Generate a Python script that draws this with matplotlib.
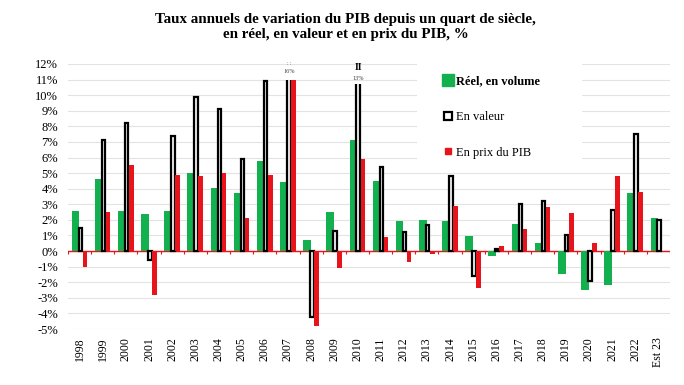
import matplotlib.pyplot as plt
import numpy as np
from matplotlib.lines import Line2D
from matplotlib.patches import Rectangle

plt.rcParams['font.family'] = ['Liberation Serif', 'DejaVu Serif']

annees = ['1998', '1999', '2000', '2001', '2002', '2003', '2004', '2005', '2006',
          '2007', '2008', '2009', '2010', '2011', '2012', '2013', '2014', '2015',
          '2016', '2017', '2018', '2019', '2020', '2021', '2022', 'Est 23']
reel = [2.6, 4.6, 2.6, 2.4, 2.6, 5.0, 4.05, 3.7, 5.8, 4.4, 0.7, 2.5, 7.1,
        4.5, 1.9, 2.0, 1.9, 0.95, -0.3, 1.75, 0.5, -1.5, -2.5, -2.2, 3.7, 2.1]
valeur = [1.5, 7.1, 8.2, -0.6, 7.4, 9.9, 9.1, 5.9, 10.9, 16.0, -4.2, 1.3, 13.0,
          5.4, 1.2, 1.7, 4.8, -1.6, 0.15, 3.0, 3.2, 1.05, -1.9, 2.65, 7.5, 2.0]
prix = [-1.0, 2.5, 5.5, -2.8, 4.9, 4.8, 5.0, 2.1, 4.9, 11.0, -4.8, -1.1, 5.9,
        0.9, -0.7, -0.2, 2.9, -2.4, 0.3, 1.4, 2.8, 2.45, 0.5, 4.8, 3.8, 0.0]

# where the cut bars stop, and where their value label sits
coupures = {'2007': (11.0, 11.5), '2010': (10.7, 11.1)}

vert = '#13b04f'
rouge = '#e8141c'

fig = plt.figure(figsize=(6.84, 3.85), dpi=100)
ax = fig.add_axes([68 / 684, 1 - 329 / 385, 602 / 684, 265 / 385])

x = np.arange(len(annees))
ax.bar(x - 0.175, reel, width=0.33, color=vert, zorder=2)

val = np.array(valeur)
hauteurs = [min(v, coupures[a][0] + 0.5) if a in coupures else v
            for a, v in zip(annees, valeur)]
bars = ax.bar(x + 0.035, hauteurs, width=0.15,
              color='#f4f4f4', edgecolor='black', linewidth=1.6, zorder=3)
for i, b in enumerate(bars):
    a = annees[i]
    if a in coupures:
        cap, ylab = coupures[a]
        clip = Rectangle((i - 0.5, -10), 1, 10 + cap, transform=ax.transData)
        b.set_clip_path(clip)
        ax.text(i + 0.035, ylab, f'{val[i]:.0f}%', fontsize=4.5, ha='center',
                va='center', color='#444444', zorder=5)

ax.bar(x + 0.235, prix, width=0.2, color=rouge, zorder=4)

# break marks
ax.text(9 + 0.035, 12.05, ': :', fontsize=4, ha='center', va='center', color='#555555')
ax.text(12 + 0.035, 11.8, 'II', fontsize=7, fontweight='bold', ha='center',
        va='center', color='black')

ax.set_xlim(-0.5, len(annees) - 0.5)
ax.set_ylim(-5, 12)
ax.set_yticks(range(-5, 13))
ax.set_yticklabels([f'{v}%' for v in range(-5, 13)], fontsize=9)
ax.yaxis.grid(True, color='#e3e3e3', linewidth=0.8, zorder=0)
ax.set_axisbelow(True)
ax.axhline(0, color=rouge, linewidth=1.0, zorder=1)
ax.vlines(np.arange(len(annees) + 1) - 0.5, -0.18, 0, color=rouge, linewidth=0.8, zorder=1)

ax.set_xticks(x)
ax.set_xticklabels(annees, rotation=90, fontsize=8.5, va='top')
ax.tick_params(axis='both', length=0)
ax.tick_params(axis='x', pad=6)
ax.tick_params(axis='y', pad=7)
for s in ax.spines.values():
    s.set_visible(False)

# white area behind the legend, hiding the gridlines there
ax.add_patch(Rectangle((0.58, 0.6), 0.274, 0.41, transform=ax.transAxes,
                       facecolor='white', edgecolor='none', zorder=1.5,
                       clip_on=False))

handles = [
    Line2D([], [], marker='s', linestyle='', markersize=8, color=vert),
    Line2D([], [], marker='s', linestyle='', markersize=6, markerfacecolor='white',
           markeredgecolor='black', markeredgewidth=1.6),
    Line2D([], [], marker='s', linestyle='', markersize=5, color=rouge),
]
leg = ax.legend(handles, ['Réel, en volume', 'En valeur', 'En prix du PIB'],
                loc='upper left', bbox_to_anchor=(0.605, 1.0), fontsize=9,
                frameon=True, facecolor='white', edgecolor='white', framealpha=1,
                labelspacing=1.9, handlelength=0.8, handletextpad=0.2,
                borderpad=0.9, borderaxespad=0)
leg.get_texts()[0].set_fontweight('bold')
leg.set_zorder(6)

fig.text(0.505, 1 - 27 / 385,
         'Taux annuels de variation du PIB depuis un quart de siècle,\n'
         'en réel, en valeur et en prix du PIB, %',
         ha='center', va='center', fontsize=10.8, fontweight='bold', linespacing=1.25)

fig.savefig('out.png', dpi=100)
